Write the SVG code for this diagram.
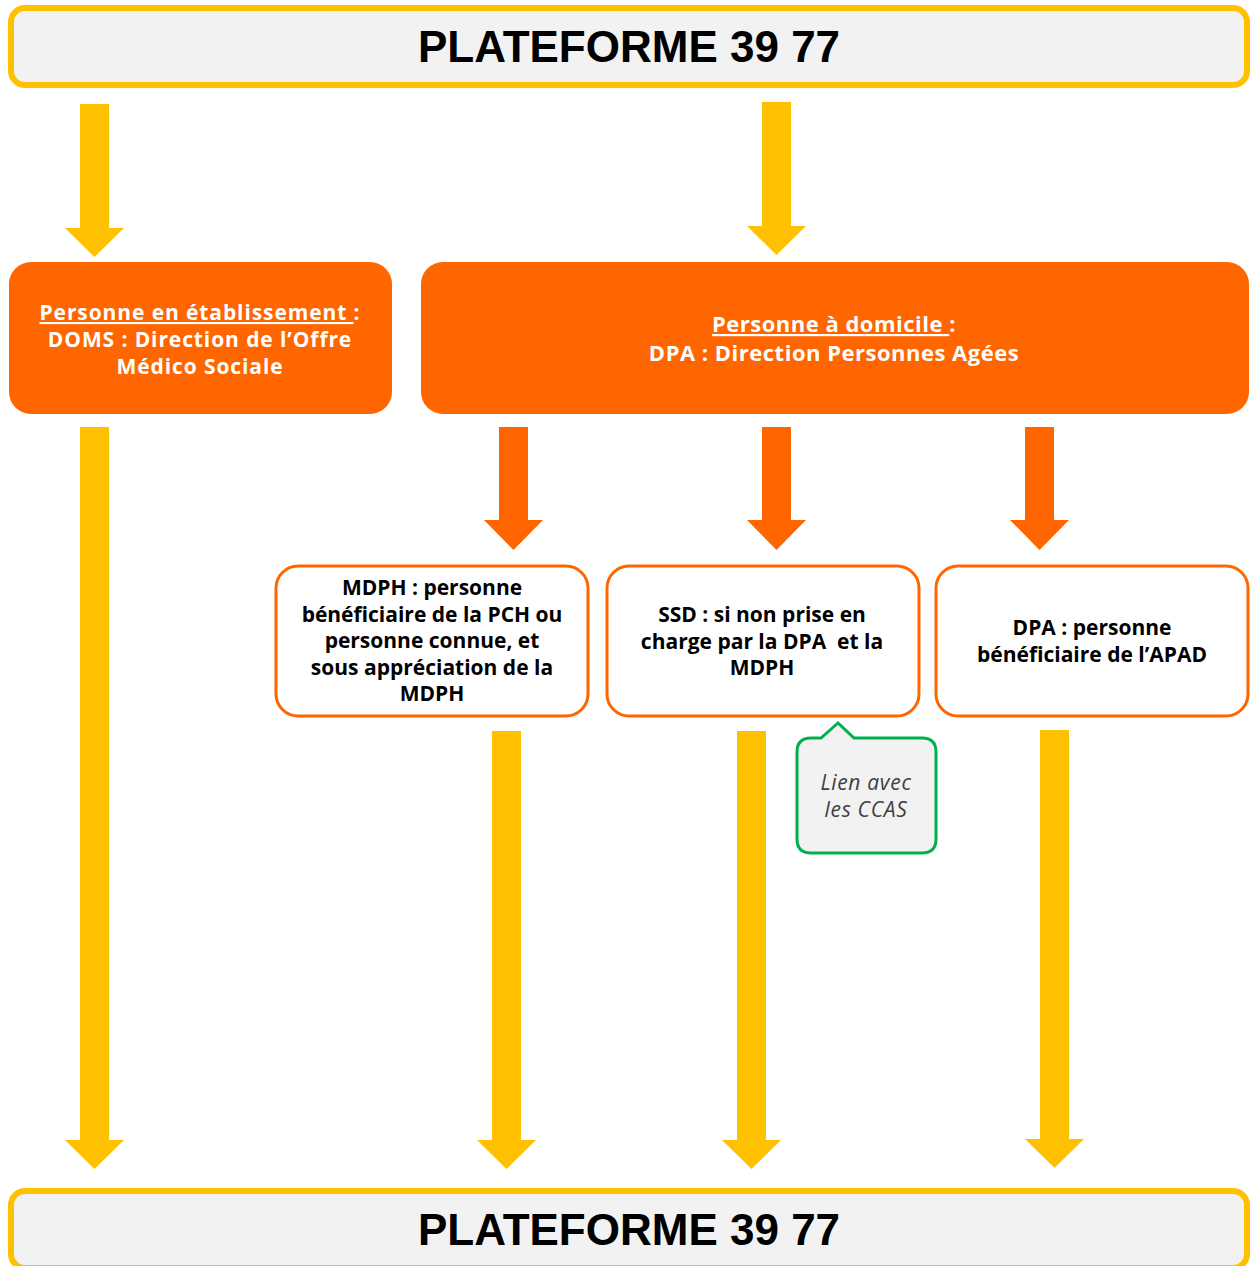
<svg xmlns="http://www.w3.org/2000/svg" width="1252" height="1266" viewBox="0 0 1252 1266">
<style>
.bar{fill:#F2F2F2;stroke:#FFC000;stroke-width:6}
.bartxt{font-family:"Liberation Sans",Arial,sans-serif;font-weight:bold;font-size:44px;fill:#000;text-anchor:middle}
.org{fill:#FF6600}
.otxt{font-family:"Open Sans",Lato,sans-serif;font-weight:bold;font-size:22px;letter-spacing:0.5px;fill:#fff;text-anchor:middle}
.otxs{font-family:"Open Sans",Lato,sans-serif;font-weight:bold;font-size:21px;letter-spacing:0.9px;fill:#fff;text-anchor:middle}
.wbox{fill:#fff;stroke:#FF6600;stroke-width:3}
.wtxt{font-family:"Open Sans",Lato,sans-serif;font-weight:bold;font-size:21px;fill:#000;text-anchor:middle}
.ya{fill:#FFC000}
.oa{fill:#FF6600}
.call{fill:#F2F2F2;stroke:#00B050;stroke-width:3}
.ctxt{font-family:"Open Sans",Lato,sans-serif;font-style:italic;font-size:21px;letter-spacing:0.7px;fill:#404040;text-anchor:middle}
.u{text-decoration:underline}
</style>
<rect width="1252" height="1266" fill="#fff"/>
<g id="top">
<rect class="bar" x="11" y="8" width="1236" height="77" rx="14"/>
<text class="bartxt" x="629" y="62">PLATEFORME 39 77</text>
</g>
<g id="bottom">
<rect class="bar" x="11" y="1191" width="1236" height="77" rx="14"/>
<text class="bartxt" x="629" y="1245">PLATEFORME 39 77</text>
</g>
<g id="etab">
<rect class="org" x="9" y="262" width="383" height="152" rx="22"/>
<text class="otxs"><tspan x="200" y="320"><tspan class="u">Personne en établissement </tspan>:</tspan><tspan x="200" y="347">DOMS : Direction de l’Offre</tspan><tspan x="200" y="374">Médico Sociale</tspan></text>
</g>
<g id="domicile">
<rect class="org" x="421" y="262" width="828" height="152" rx="22"/>
<text class="otxt"><tspan x="834" y="332"><tspan class="u">Personne à domicile </tspan>:</tspan><tspan x="834" y="361">DPA : Direction Personnes Agées</tspan></text>
</g>
<g id="mdph">
<rect class="wbox" x="276" y="566" width="312" height="150" rx="22"/>
<text class="wtxt"><tspan x="432" y="595">MDPH : personne</tspan><tspan x="432" y="622">bénéficiaire de la PCH ou</tspan><tspan x="432" y="648">personne connue, et</tspan><tspan x="432" y="675">sous appréciation de la</tspan><tspan x="432" y="701">MDPH</tspan></text>
</g>
<g id="ssd">
<rect class="wbox" x="607" y="566" width="312" height="150" rx="22"/>
<text class="wtxt" xml:space="preserve"><tspan x="762" y="622">SSD : si non prise en</tspan><tspan x="762" y="649">charge par la DPA  et la</tspan><tspan x="762" y="675">MDPH</tspan></text>
</g>
<g id="dpa">
<rect class="wbox" x="936" y="566" width="312" height="150" rx="22"/>
<text class="wtxt"><tspan x="1092" y="635">DPA : personne</tspan><tspan x="1092" y="662">bénéficiaire de l’APAD</tspan></text>
</g>
<g id="ccas">
<path class="call" d="M811,738 L821,738 L838,723 L854,738 L922,738 Q936,738 936,752 L936,839 Q936,853 922,853 L811,853 Q797,853 797,839 L797,752 Q797,738 811,738 Z"/>
<text class="ctxt"><tspan x="866" y="790">Lien avec</tspan><tspan x="866" y="817">les CCAS</tspan></text>
</g>
<g id="connectors">
<path class="ya" d="M80,104 H109 V228 H124 L94.5,257 L65,228 H80 Z"/>
<path class="ya" d="M762,102 H791 V226 H806 L776.5,255 L747,226 H762 Z"/>
<path class="oa" d="M499,427 H528 V520 H543 L513.5,550 L484,520 H499 Z"/>
<path class="oa" d="M762,427 H791 V520 H806 L776.5,550 L747,520 H762 Z"/>
<path class="oa" d="M1025,427 H1054 V520 H1069 L1039.5,550 L1010,520 H1025 Z"/>
<path class="ya" d="M80,427 H109 V1140 H124 L94.5,1169 L65,1140 H80 Z"/>
<path class="ya" d="M492,731 H521 V1140 H536 L506.5,1169 L477,1140 H492 Z"/>
<path class="ya" d="M737,731 H766 V1140 H781 L751.5,1169 L722,1140 H737 Z"/>
<path class="ya" d="M1040,730 H1069 V1139 H1084 L1054.5,1168 L1025,1139 H1040 Z"/>
</g>
</svg>
